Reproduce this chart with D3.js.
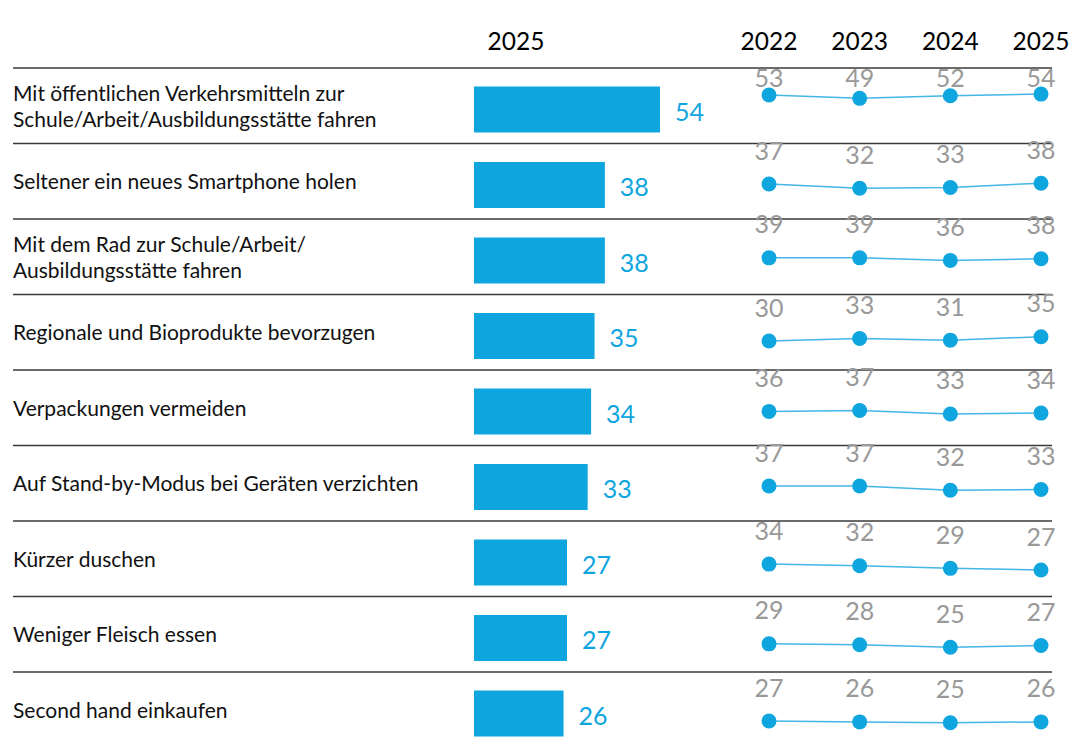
<!DOCTYPE html>
<html>
<head>
<meta charset="utf-8">
<script src="https://cdn.jsdelivr.net/npm/d3@7"></script>
<style>
  body { margin: 0; background: #fff; }
  svg text { font-family: Lato, "Open Sans", sans-serif; }
</style>
</head>
<body>
<div id="chart"></div>
<script>
const categories = [
  ["Mit öffentlichen Verkehrsmitteln zur", "Schule/Arbeit/Ausbildungsstätte fahren"],
  ["Seltener ein neues Smartphone holen"],
  ["Mit dem Rad zur Schule/Arbeit/", "Ausbildungsstätte fahren"],
  ["Regionale und Bioprodukte bevorzugen"],
  ["Verpackungen vermeiden"],
  ["Auf Stand-by-Modus bei Geräten verzichten"],
  ["Kürzer duschen"],
  ["Weniger Fleisch essen"],
  ["Second hand einkaufen"]
]
const years = ["2022", "2023", "2024", "2025"]
const values2022 = [53, 37, 39, 30, 36, 37, 34, 29, 27]
const values2023 = [49, 32, 39, 33, 37, 37, 32, 28, 26]
const values2024 = [52, 33, 36, 31, 33, 32, 29, 25, 25]
const values2025 = [54, 38, 38, 35, 34, 33, 27, 27, 26]

const trend = [values2022, values2023, values2024, values2025]

const width = 1073, height = 745
const blue = "#0fa5df"

const svg = d3.select("#chart").append("svg")
  .attr("width", width)
  .attr("height", height)

const rowTop = 68, rowH = 75.5
const row = d3.scaleBand()
  .domain(d3.range(categories.length))
  .range([rowTop, rowTop + rowH * categories.length])

const x = d3.scaleLinear().domain([0, 100]).range([474, 474 + 344.4])
const xYear = d3.scalePoint().domain(years).range([769, 1041])
// vertical offset of a dot inside its row
const yIn = d3.scaleLinear().domain([0, 100]).range([72, -13])

// headers
svg.append("text")
  .attr("x", 516).attr("y", 50)
  .attr("text-anchor", "middle")
  .attr("font-size", 24.5)
  .attr("fill", "#000")
  .text("2025")

svg.selectAll(".yr")
  .data(years)
  .join("text")
  .attr("class", "yr")
  .attr("x", d => xYear(d)).attr("y", 50)
  .attr("text-anchor", "middle")
  .attr("font-size", 24.5)
  .attr("fill", "#000")
  .text(d => d)

// separators
svg.selectAll(".sep")
  .data(d3.range(categories.length))
  .join("line")
  .attr("class", "sep")
  .attr("x1", 13).attr("x2", 1052)
  .attr("y1", d => row(d)).attr("y2", d => row(d))
  .attr("stroke", "#3a3a3a")
  .attr("stroke-width", 1.3)

const rows = svg.selectAll(".row")
  .data(categories.map((c, i) => ({ i, label: c, v: values2025[i], t: trend.map(s => s[i]) })))
  .join("g")
  .attr("class", "row")
  .attr("transform", d => `translate(0,${row(d.i)})`)

// category labels
rows.append("text")
  .attr("font-size", 21)
  .attr("fill", "#111")
  .selectAll("tspan")
  .data(d => d.label.map((l, j) => ({ l, j, n: d.label.length })))
  .join("tspan")
  .attr("x", 13)
  .attr("y", d => rowH / 2 + 8 + (d.j - (d.n - 1) / 2) * 26)
  .text(d => d.l)

// bars
rows.append("rect")
  .attr("x", x(0))
  .attr("y", 18.5)
  .attr("width", d => x(d.v) - x(0))
  .attr("height", 46)
  .attr("fill", blue)

rows.append("text")
  .attr("x", d => x(d.v) + 15)
  .attr("y", 52.5)
  .attr("font-size", 25)
  .attr("fill", blue)
  .text(d => d.v)

// trend lines
const line = d3.line()
  .x((d, k) => xYear(years[k]))
  .y(d => yIn(d))

rows.append("path")
  .attr("d", d => line(d.t))
  .attr("fill", "none")
  .attr("stroke", "#45b6e6")
  .attr("stroke-width", 1.5)

rows.selectAll(".dot")
  .data(d => d.t.map((v, k) => ({ v, k })))
  .join("circle")
  .attr("class", "dot")
  .attr("cx", d => xYear(years[d.k]))
  .attr("cy", d => yIn(d.v))
  .attr("r", 7.5)
  .attr("fill", blue)

rows.selectAll(".tl")
  .data(d => d.t.map((v, k) => ({ v, k, i: d.i })))
  .join("text")
  .attr("class", "tl")
  .attr("x", d => xYear(years[d.k]))
  .attr("y", d => d.i === 0 ? Math.max(yIn(d.v) - 24.5, 19) : yIn(d.v) - 24.5)
  .attr("text-anchor", "middle")
  .attr("font-size", 25)
  .attr("fill", "#999")
  .text(d => d.v)
</script>
</body>
</html>
